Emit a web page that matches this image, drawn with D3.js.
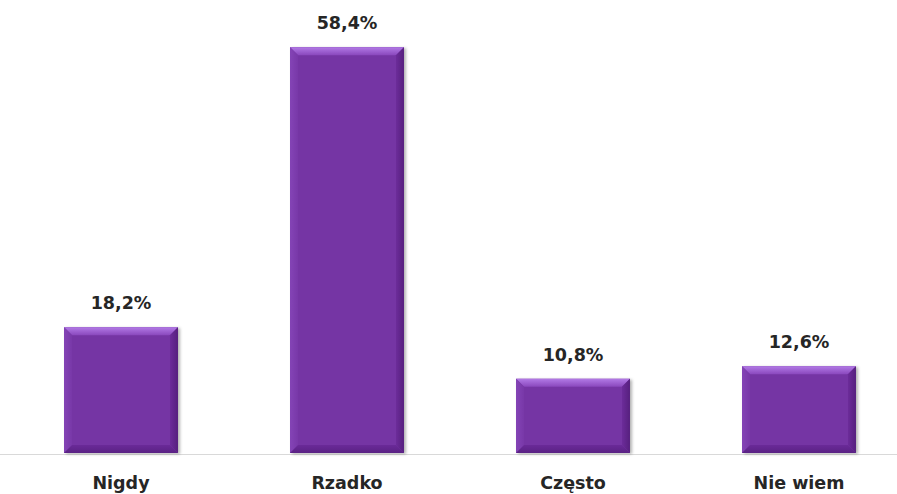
<!DOCTYPE html>
<html>
<head>
<meta charset="utf-8">
<script src="https://cdn.jsdelivr.net/npm/d3@7"></script>
<style>
  html, body { margin: 0; padding: 0; background: #ffffff; }
  svg { display: block; }
  text { font-family: "DejaVu Sans", sans-serif; font-weight: bold; fill: #262626; }
</style>
</head>
<body>
<svg id="chart" width="897" height="494"></svg>
<script>
// Odpowiedzi i odsetki
const categories = ["Nigdy", "Rzadko", "Często", "Nie wiem"];
const values = [18.2, 58.4, 10.8, 12.6];
const valueLabels = ["18,2%", "58,4%", "10,8%", "12,6%"];

const W = 897, H = 494;
const svg = d3.select("#chart");

const x = d3.scaleBand().domain(categories).range([8, 912]).paddingInner(0.496).paddingOuter(0.248);
const y = d3.scaleLinear().domain([0, 60]).range([454, 36]);

const defs = svg.append("defs");
const topGrad = defs.append("linearGradient").attr("id", "bevTop")
  .attr("x1", 0).attr("y1", 0).attr("x2", 0).attr("y2", 1);
topGrad.append("stop").attr("offset", 0).attr("stop-color", "#b27ae6");
topGrad.append("stop").attr("offset", 1).attr("stop-color", "#8a48bd");

const leftGrad = defs.append("linearGradient").attr("id", "bevLeft")
  .attr("x1", 0).attr("y1", 0).attr("x2", 1).attr("y2", 0);
leftGrad.append("stop").attr("offset", 0).attr("stop-color", "#8444b6");
leftGrad.append("stop").attr("offset", 1).attr("stop-color", "#7838a8");

const rightGrad = defs.append("linearGradient").attr("id", "bevRight")
  .attr("x1", 0).attr("y1", 0).attr("x2", 1).attr("y2", 0);
rightGrad.append("stop").attr("offset", 0).attr("stop-color", "#6c2c9a");
rightGrad.append("stop").attr("offset", 1).attr("stop-color", "#56207e");

const botGrad = defs.append("linearGradient").attr("id", "bevBot")
  .attr("x1", 0).attr("y1", 0).attr("x2", 0).attr("y2", 1);
botGrad.append("stop").attr("offset", 0).attr("stop-color", "#6a2a98");
botGrad.append("stop").attr("offset", 1).attr("stop-color", "#5a2284");

const shadow = defs.append("filter").attr("id", "shadow")
  .attr("x", "-10%").attr("y", "-10%").attr("width", "130%").attr("height", "130%");
shadow.append("feDropShadow").attr("dx", 2).attr("dy", 1).attr("stdDeviation", 1.5)
  .attr("flood-color", "#000").attr("flood-opacity", 0.3);

// Oś pozioma
svg.append("line")
  .attr("x1", 0).attr("x2", W)
  .attr("y1", y(0) + 0.5).attr("y2", y(0) + 0.5)
  .attr("stroke", "#d9d9d9").attr("stroke-width", 1);

const bev = 8;
const bars = svg.append("g").selectAll("g.bar")
  .data(categories.map((c, i) => ({ c, v: values[i], label: valueLabels[i] })))
  .join("g").attr("class", "bar");

bars.each(function (d) {
  const g = d3.select(this);
  const x0 = x(d.c), x1 = x(d.c) + x.bandwidth();
  const y0 = y(d.v), y1 = y(0) - 1;
  g.append("rect")
    .attr("x", x0).attr("y", y0)
    .attr("width", x1 - x0).attr("height", y1 - y0)
    .attr("fill", "#7434a4").attr("filter", "url(#shadow)");
  const pts = a => a.map(p => p.join(",")).join(" ");
  g.append("polygon").attr("fill", "url(#bevTop)")
    .attr("points", pts([[x0, y0], [x1, y0], [x1 - bev, y0 + bev], [x0 + bev, y0 + bev]]));
  g.append("polygon").attr("fill", "url(#bevLeft)")
    .attr("points", pts([[x0, y0], [x0 + bev, y0 + bev], [x0 + bev, y1 - bev], [x0, y1]]));
  g.append("polygon").attr("fill", "url(#bevRight)")
    .attr("points", pts([[x1, y0], [x1, y1], [x1 - bev, y1 - bev], [x1 - bev, y0 + bev]]));
  g.append("polygon").attr("fill", "url(#bevBot)")
    .attr("points", pts([[x0, y1], [x0 + bev, y1 - bev], [x1 - bev, y1 - bev], [x1, y1]]));
  g.append("text")
    .attr("x", (x0 + x1) / 2).attr("y", y0 - 18)
    .attr("text-anchor", "middle").attr("font-size", 17.5)
    .text(d.label);
});

// Etykiety kategorii
svg.append("g").selectAll("text.cat")
  .data(categories)
  .join("text").attr("class", "cat")
  .attr("x", d => x(d) + x.bandwidth() / 2)
  .attr("y", 489)
  .attr("text-anchor", "middle").attr("font-size", 17.5)
  .text(d => d);
</script>
</body>
</html>
